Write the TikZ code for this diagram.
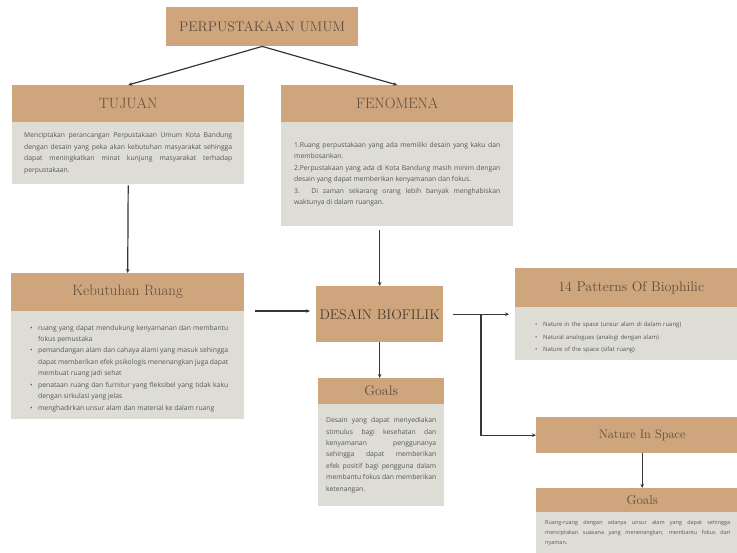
\documentclass[tikz,border=0pt]{standalone}
\usepackage{fontspec}
\newfontfamily\isifont{Open Sans}
\usetikzlibrary{arrows.meta,positioning}

\definecolor{tanC}{RGB}{206,165,125}
\definecolor{abuC}{RGB}{221,220,213}
\definecolor{judulC}{RGB}{95,78,62}
\definecolor{isiC}{RGB}{88,88,86}
\definecolor{garisC}{RGB}{55,55,55}

\hyphenpenalty=10000
\exhyphenpenalty=10000
\tolerance=9999
\emergencystretch=10bp

\newcommand{\butir}[1]{\par\hangindent=8bp\hangafter=1\noindent\hbox to 8bp{\textbullet\hss}#1\par}

\begin{document}
\begin{tikzpicture}[x=1bp,y=-1bp,
    judul/.style={fill=tanC,text=judulC,inner sep=0pt,anchor=north west,font=\fontsize{15}{18}\selectfont},
    isi/.style={fill=abuC,text=isiC,anchor=north west,inner xsep=12bp,inner ysep=0pt,align=justify,font=\isifont\fontsize{6.8}{11.5}\selectfont},
    panah/.style={draw=garisC,line width=1.2bp,-{Stealth[length=4bp,width=3.5bp]}}]
    \useasboundingbox (0,0) rectangle (737,553);
    \fill[white] (0,0) rectangle (737,553);

    \node[judul,minimum width=192bp,minimum height=39bp,font=\fontsize{14}{16}\selectfont] (umum) at (166,7) {PERPUSTAKAAN UMUM};

    \node[judul,minimum width=232bp,minimum height=37bp] (tujuan) at (12,85) {TUJUAN};
    \node[isi,text width=208bp,minimum height=62bp] (tujuanisi) at (12,122) {Menciptakan perancangan Perpustakaan Umum Kota Bandung dengan desain yang peka akan kebutuhan masyarakat sehingga dapat meningkatkan minat kunjung masyarakat terhadap perpustakaan.};

    \node[judul,minimum width=232bp,minimum height=37bp] (fenomena) at (281,85) {FENOMENA};
    \node[isi,text width=206bp,inner xsep=13bp,minimum height=104bp] (fenomenaisi) at (281,122) {1.Ruang perpustakaan yang ada memiliki desain yang kaku dan membosankan.\par 2.Perpustakaan yang ada di Kota Bandung masih minim dengan desain yang dapat memberikan kenyamanan dan fokus.\par 3. Di zaman sekarang orang lebih banyak menghabiskan waktunya di dalam ruangan.};

    \node[judul,minimum width=233bp,minimum height=38bp] (kebutuhan) at (11,273) {Kebutuhan Ruang};
    \node[isi,text width=201bp,inner xsep=16bp,minimum height=108bp] (kebutuhanisi) at (11,311) {\leftskip=3bp
        \butir{ruang yang dapat mendukung kenyamanan dan membantu fokus pemustaka}
        \butir{pemandangan alam dan cahaya alami yang masuk sehingga dapat memberikan efek psikologis menenangkan juga dapat membuat ruang jadi sehat}
        \butir{penataan ruang dan furnitur yang fleksibel yang tidak kaku dengan sirkulasi yang jelas}
        \butir{menghadirkan unsur alam dan material ke dalam ruang}};

    \node[judul,minimum width=127bp,minimum height=56bp,font=\fontsize{14}{16}\selectfont,text=judulC!80!black] (desain) at (316,286) {DESAIN BIOFILIK};

    \node[judul,minimum width=126bp,minimum height=26bp,font=\fontsize{14}{16}\selectfont] (goals) at (318,378) {Goals};
    \node[isi,text width=110bp,inner xsep=8bp,minimum height=102bp] (goalsisi) at (318,404) {Desain yang dapat menyediakan stimulus bagi kesehatan dan kenyamanan penggunanya sehingga dapat memberikan efek positif bagi pengguna dalam membantu fokus dan memberikan ketenangan.};

    \node[judul,minimum width=232bp,minimum height=39bp,font=\fontsize{14}{16}\selectfont] (pola) at (515,268) {14 Patterns Of Biophilic};
    \node[isi,text width=200bp,inner xsep=20bp,minimum height=53bp,align=left,font=\isifont\fontsize{6}{12.5}\selectfont] (polaisi) at (515,307) {
        \butir{Nature in the space (unsur alam di dalam ruang)}
        \butir{Natural analogues (analogi dengan alam)}
        \butir{Nature of the space (sifat ruang)}};

    \node[judul,minimum width=212bp,minimum height=36bp,font=\fontsize{12.5}{15}\selectfont] (nature) at (536,417) {Nature In Space};

    \node[judul,minimum width=212bp,minimum height=24bp,font=\fontsize{13}{15}\selectfont] (goalsdua) at (536,488) {Goals};
    \node[isi,text width=185bp,inner xsep=9bp,minimum height=41bp,font=\isifont\fontsize{5.5}{10}\selectfont] (goalsduaisi) at (536,512) {Ruang-ruang dengan adanya unsur alam yang dapat sehingga menciptakan suasana yang menenangkan, membantu fokus dan nyaman.};

    \coordinate (cabang) at (481,314);

    \draw[panah] (umum.south) -- (tujuan.north);
    \draw[panah] (umum.south) -- (fenomena.north);
    \draw[panah,shorten <=1bp] (tujuanisi.south) -- (kebutuhan.north);
    \draw[panah,shorten <=4bp] (desain.north |- fenomenaisi.south) -- (desain.north);
    \draw[panah,shorten <=11bp,shorten >=6bp] (kebutuhanisi.north east) -- (kebutuhanisi.north east -| desain.west);
    \draw[panah] (desain.south) -- (desain.south |- goals.north);
    \draw[panah,shorten <=10bp,shorten >=6bp] (desain.east) -- (desain.east -| polaisi.west);
    \draw[panah] (cabang) |- (nature.west);
    \draw[panah] (nature.south) -- (goalsdua.north);
\end{tikzpicture}
\end{document}
